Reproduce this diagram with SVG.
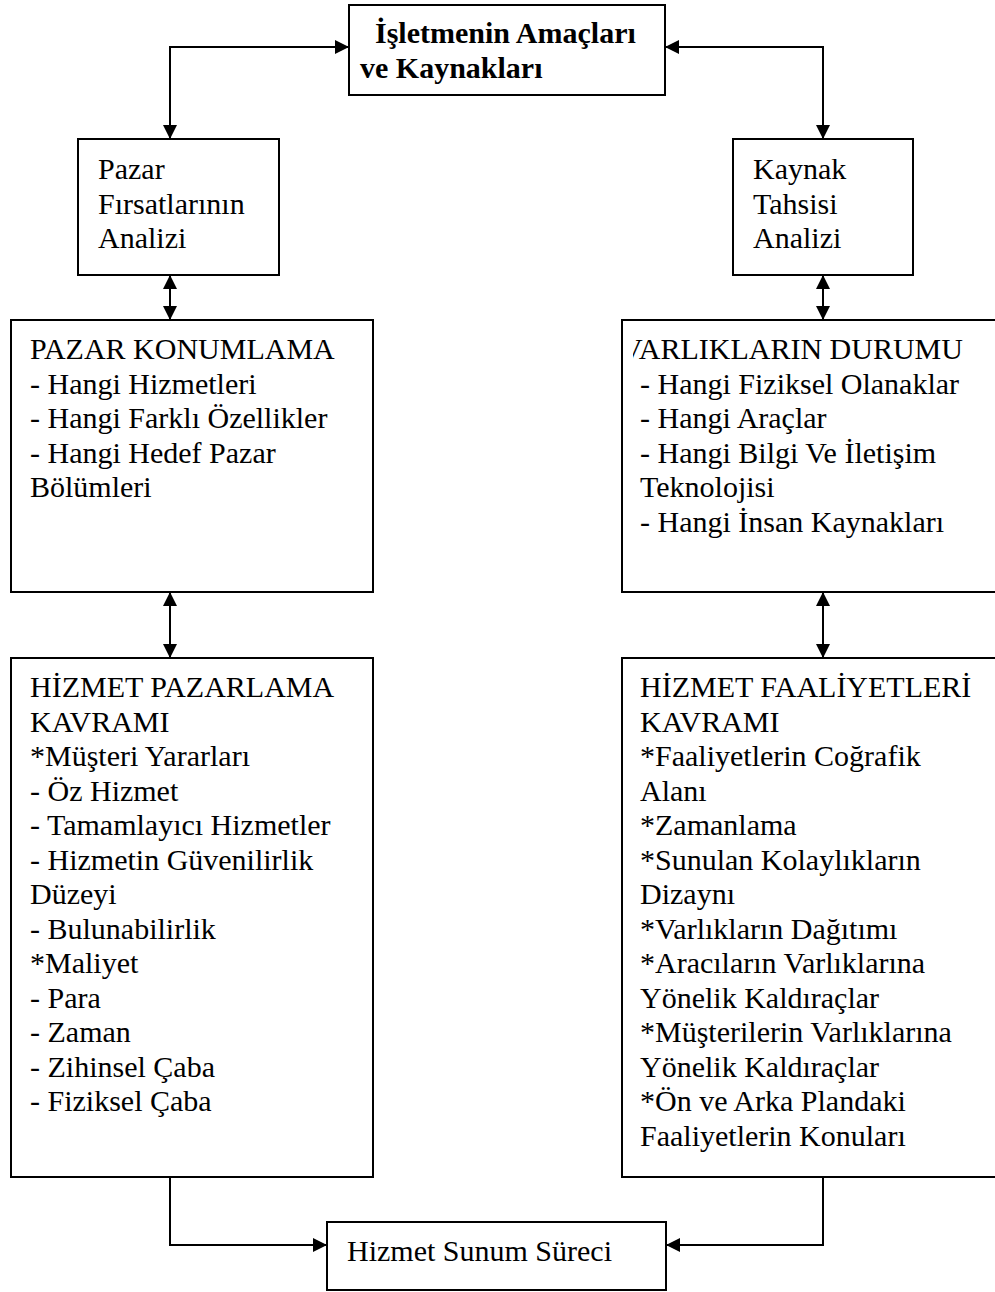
<svg xmlns="http://www.w3.org/2000/svg" width="995" height="1292" viewBox="0 0 995 1292">
<style>
.box{fill:#fff;stroke:#000;stroke-width:2}
.t{font-family:"Liberation Serif","Times New Roman",serif;font-size:30px;fill:#000}
.b{font-weight:bold}
.c{fill:none;stroke:#000;stroke-width:2}
</style>
<defs>
<marker id="ah" viewBox="0 0 14 14" refX="14" refY="7" markerWidth="14" markerHeight="14" markerUnits="userSpaceOnUse" orient="auto-start-reverse">
<path d="M0,0 L14,7 L0,14 Z" fill="#000"/>
</marker>
<clipPath id="clipV"><rect x="633" y="320" width="400" height="272"/></clipPath>
</defs>
<g id="connectors">
<polyline class="c" points="170,139 170,47 349,47" marker-start="url(#ah)" marker-end="url(#ah)"/>
<polyline class="c" points="823,139 823,47 665,47" marker-start="url(#ah)" marker-end="url(#ah)"/>
<line class="c" x1="170" y1="275" x2="170" y2="320" marker-start="url(#ah)" marker-end="url(#ah)"/>
<line class="c" x1="823" y1="275" x2="823" y2="320" marker-start="url(#ah)" marker-end="url(#ah)"/>
<line class="c" x1="170" y1="592" x2="170" y2="658" marker-start="url(#ah)" marker-end="url(#ah)"/>
<line class="c" x1="823" y1="592" x2="823" y2="658" marker-start="url(#ah)" marker-end="url(#ah)"/>
<polyline class="c" points="170,1177 170,1245 327,1245" marker-end="url(#ah)"/>
<polyline class="c" points="823,1177 823,1245 666,1245" marker-end="url(#ah)"/>
</g>
<g id="amaclar">
<rect class="box" x="349" y="5" width="316" height="90"/>
<text class="t b" x="375" y="43">İşletmenin Amaçları</text>
<text class="t b" x="360" y="78">ve Kaynakları</text>
</g>
<g id="pazar-firsat">
<rect class="box" x="78" y="139" width="201" height="136"/>
<text class="t" x="98" y="179">Pazar</text>
<text class="t" x="98" y="213.5">Fırsatlarının</text>
<text class="t" x="98" y="248">Analizi</text>
</g>
<g id="kaynak-tahsis">
<rect class="box" x="733" y="139" width="180" height="136"/>
<text class="t" x="753" y="179">Kaynak</text>
<text class="t" x="753" y="213.5">Tahsisi</text>
<text class="t" x="753" y="248">Analizi</text>
</g>
<g id="pazar-konumlama">
<rect class="box" x="11" y="320" width="362" height="272"/>
<text class="t" x="30" y="359">PAZAR KONUMLAMA</text>
<text class="t" x="30" y="393.5">- Hangi Hizmetleri</text>
<text class="t" x="30" y="428">- Hangi Farklı Özellikler</text>
<text class="t" x="30" y="462.5">- Hangi Hedef Pazar</text>
<text class="t" x="30" y="497">Bölümleri</text>
</g>
<g id="varliklar">
<rect class="box" x="622" y="320" width="400" height="272"/>
<text class="t" x="621" y="359" clip-path="url(#clipV)">VARLIKLARIN DURUMU</text>
<text class="t" x="640" y="393.5">- Hangi Fiziksel Olanaklar</text>
<text class="t" x="640" y="428">- Hangi Araçlar</text>
<text class="t" x="640" y="462.5">- Hangi Bilgi Ve İletişim</text>
<text class="t" x="640" y="497">Teknolojisi</text>
<text class="t" x="640" y="531.5">- Hangi İnsan Kaynakları</text>
</g>
<g id="hizmet-pazarlama">
<rect class="box" x="11" y="658" width="362" height="519"/>
<text class="t" x="30" y="697">HİZMET PAZARLAMA</text>
<text class="t" x="30" y="731.5">KAVRAMI</text>
<text class="t" x="30" y="766">*Müşteri Yararları</text>
<text class="t" x="30" y="800.5">- Öz Hizmet</text>
<text class="t" x="30" y="835">- Tamamlayıcı Hizmetler</text>
<text class="t" x="30" y="869.5">- Hizmetin Güvenilirlik</text>
<text class="t" x="30" y="904">Düzeyi</text>
<text class="t" x="30" y="938.5">- Bulunabilirlik</text>
<text class="t" x="30" y="973">*Maliyet</text>
<text class="t" x="30" y="1007.5">- Para</text>
<text class="t" x="30" y="1042">- Zaman</text>
<text class="t" x="30" y="1076.5">- Zihinsel Çaba</text>
<text class="t" x="30" y="1111">- Fiziksel Çaba</text>
</g>
<g id="hizmet-faaliyetleri">
<rect class="box" x="622" y="658" width="400" height="519"/>
<text class="t" x="640" y="697">HİZMET FAALİYETLERİ</text>
<text class="t" x="640" y="731.5">KAVRAMI</text>
<text class="t" x="640" y="766">*Faaliyetlerin Coğrafik</text>
<text class="t" x="640" y="800.5">Alanı</text>
<text class="t" x="640" y="835">*Zamanlama</text>
<text class="t" x="640" y="869.5">*Sunulan Kolaylıkların</text>
<text class="t" x="640" y="904">Dizaynı</text>
<text class="t" x="640" y="938.5">*Varlıkların Dağıtımı</text>
<text class="t" x="640" y="973">*Aracıların Varlıklarına</text>
<text class="t" x="640" y="1007.5">Yönelik Kaldıraçlar</text>
<text class="t" x="640" y="1042">*Müşterilerin Varlıklarına</text>
<text class="t" x="640" y="1076.5">Yönelik Kaldıraçlar</text>
<text class="t" x="640" y="1111">*Ön ve Arka Plandaki</text>
<text class="t" x="640" y="1145.5">Faaliyetlerin Konuları</text>
</g>
<g id="hizmet-sunum">
<rect class="box" x="327" y="1222" width="339" height="68"/>
<text class="t" x="347" y="1261">Hizmet Sunum Süreci</text>
</g>
</svg>
